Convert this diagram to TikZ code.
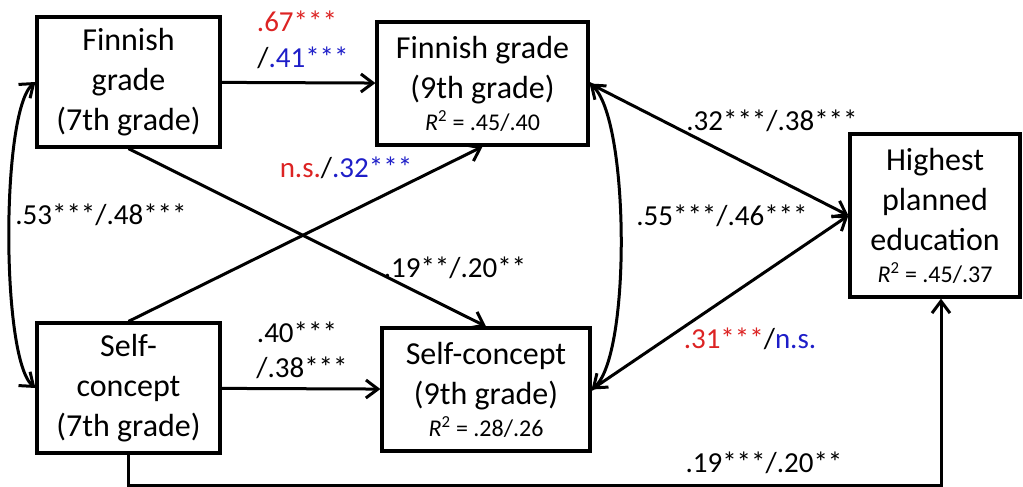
\documentclass[tikz,border=0pt]{standalone}
\usepackage{fontspec}
\setmainfont{Carlito}
\usetikzlibrary{arrows.meta}
\definecolor{sigred}{RGB}{220,35,35}
\definecolor{sigblue}{RGB}{30,30,200}
\newcommand{\rsq}[1]{{\fontsize{24}{28}\selectfont\textit{R}\textsuperscript{2} = #1}}
\begin{document}
\begin{tikzpicture}[x=1pt,y=1pt,
  box/.style={draw, line width=3.2pt, inner sep=0pt, align=center,
    font=\fontsize{32}{40}\selectfont},
  tip/.tip={Straight Barb[length=12pt,width=18pt]},
  link/.style={line width=3pt, -tip},
  both/.style={line width=3pt, tip-tip},
  lbl/.style={font=\fontsize{29}{34}\selectfont, anchor=base, inner sep=0pt}]
\useasboundingbox (0,0) rectangle (1023,-487);
% boxes
\node[box, minimum width=183pt, minimum height=130pt] (A) at (128.5,-82)
  {Finnish\\grade\\(7th grade)};
\node[box, minimum width=211pt, minimum height=123pt] (B) at (482.5,-83.5)
  {Finnish grade\\(9th grade)\\[-8pt]\rsq{.45/.40}};
\node[box, minimum width=183pt, minimum height=130pt] (C) at (128.5,-388)
  {Self-\\concept\\(7th grade)};
\node[box, minimum width=208pt, minimum height=123pt] (D) at (486,-389.5)
  {Self-concept\\(9th grade)\\[-8pt]\rsq{.28/.26}};
\node[box, minimum width=170pt, minimum height=163pt] (E) at (935,-215.5)
  {Highest\\planned\\education\\[-8pt]\rsq{.45/.37}};
\coordinate (low) at (130,-485);
% connectors
\draw[link] (A) -- (B);
\draw[link] (C) -- (D);
\draw[link] (A.south) -- (D.north);
\draw[link] (C.north) -- (B.south);
\draw[link] (B.east) -- (E.west);
\draw[link] (D.east) -- (E.west);
\draw[link] (C.south) |- (low) -| ([xshift=6pt]E.south);
\draw[both] (A.west) to[out=220, in=140, distance=45pt] (C.west);
\draw[both] (B.east) to[out=-40, in=40, distance=52pt] (D.east);
% labels
\node[lbl, text=sigred] (l1) at (297,-32) {.67***};
\node[lbl] (l2) at (303,-67) {/\textcolor{sigblue}{.41***}};
\node[lbl] (l3) at (346,-177) {\textcolor{sigred}{n.s.}/\textcolor{sigblue}{.32***}};
\node[lbl] (l4) at (101,-224) {.53***/.48***};
\node[lbl] (l5) at (455,-277) {.19**/.20**};
\node[lbl] (l6) at (297,-342) {.40***};
\node[lbl] (l7) at (302,-377) {/.38***};
\node[lbl] (l8) at (772,-130) {.32***/.38***};
\node[lbl] (l9) at (722,-225) {.55***/.46***};
\node[lbl] (l10) at (750,-348) {\textcolor{sigred}{.31***}/\textcolor{sigblue}{n.s.}};
\node[lbl] (l11) at (764,-472) {.19***/.20**};
\end{tikzpicture}
\end{document}
